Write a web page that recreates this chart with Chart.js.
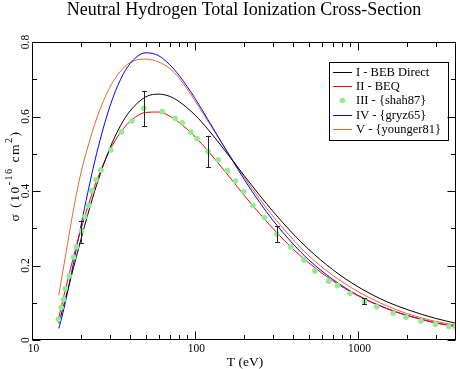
<!DOCTYPE html>
<html><head><meta charset="utf-8">
<script src="https://cdn.jsdelivr.net/npm/chart.js@4"></script>
<style>html,body{margin:0;padding:0;background:#fff;} canvas{display:block;}</style>
</head><body>
<canvas id="c" width="460" height="369"></canvas>
<script>
// ---- data ----
const energies   = [14.6,15,16,17,18,20,22,25,30,35,40,50,60,70,80,100,120,150,200,250,300,400,500,700,1000,1500,2000,3000,4000];
const bebDirect  = [0.045,0.063,0.109,0.153,0.195,0.271,0.337,0.418,0.514,0.576,0.615,0.653,0.660,0.654,0.640,0.604,0.566,0.513,0.442,0.388,0.346,0.285,0.243,0.189,0.143,0.103,0.082,0.058,0.045];
const beq        = [0.059,0.082,0.134,0.181,0.224,0.298,0.358,0.429,0.509,0.558,0.587,0.611,0.612,0.601,0.584,0.546,0.508,0.457,0.389,0.339,0.300,0.244,0.207,0.159,0.119,0.084,0.066,0.046,0.036];
const gryz65     = [0.031,0.049,0.100,0.154,0.208,0.308,0.396,0.503,0.626,0.700,0.742,0.771,0.763,0.739,0.710,0.649,0.592,0.521,0.432,0.369,0.322,0.258,0.215,0.163,0.120,0.085,0.066,0.046,0.036];
const younger81  = [0.120,0.150,0.222,0.290,0.352,0.450,0.518,0.596,0.678,0.722,0.745,0.754,0.746,0.729,0.703,0.642,0.588,0.521,0.438,0.378,0.333,0.270,0.226,0.174,0.130,0.092,0.071,0.050,0.040];
const shahT      = [14.5,15.1,15.6,16.0,16.9,18.0,18.7,20.1,21.1,22.2,23.2,24.7,26.5,30.5,35.4,41,48.5,63,75.5,83.6,94.5,103,120.5,139,158,177,199,227,267,318,388,466,544,662,749,895,1096,1303,1648,1972,2435,2990,3612,3980];
const shahSigma  = [0.056,0.087,0.109,0.138,0.172,0.222,0.250,0.293,0.331,0.361,0.401,0.430,0.456,0.510,0.559,0.588,0.622,0.613,0.595,0.583,0.558,0.541,0.506,0.483,0.455,0.427,0.398,0.361,0.329,0.284,0.250,0.215,0.185,0.158,0.146,0.125,0.103,0.089,0.072,0.061,0.051,0.042,0.036,0.034];
const errT       = [20.1,48.5,120.5,318,1096];
const errLow     = [0.261,0.574,0.464,0.263,0.097];
const errHigh    = [0.320,0.669,0.548,0.306,0.112];
const xMajorTicks = [10,100,1000];
const xMinorTicks = [20,30,40,50,60,70,80,90,200,300,400,500,600,700,800,900,2000,3000];
const yMajorTicks = [0,0.2,0.4,0.6,0.8];
const yMinorTicks = [0.1,0.3,0.5,0.7];
const yTickLabels = ['0','0.2','0.4','0.6','0.8'];
const titleText = 'Neutral Hydrogen Total Ionization Cross-Section';
const legendLabels = ['I - BEB Direct','II - BEQ','III - {shah87}','IV - {gryz65}','V - {younger81}'];

const ORANGE = 'rgb(228,104,48)';
const GREEN = 'rgb(144,238,144)';
const SERIF = '"Liberation Serif","Times New Roman",serif';

function pts(xs, ys){ return xs.map((x,i)=>({x:x, y:ys[i]})); }

const lineDs = (label, data, color) => ({
  label, data: pts(energies, data), borderColor: color, backgroundColor: color,
  borderWidth: 1, pointRadius: 0, fill: false, cubicInterpolationMode: 'monotone', order: 2
});

const decor = {
  id: 'decor',
  afterDatasetsDraw(chart){
    const ctx = chart.ctx, xs = chart.scales.x, ys = chart.scales.y;
    ctx.save();
    ctx.strokeStyle = '#222'; ctx.lineWidth = 1;
    errT.forEach((t,i)=>{
      const px = Math.round(xs.getPixelForValue(t)) + 0.5;
      const y1 = ys.getPixelForValue(errLow[i]), y2 = ys.getPixelForValue(errHigh[i]);
      ctx.beginPath();
      ctx.moveTo(px, y1); ctx.lineTo(px, y2);
      ctx.moveTo(px-2.5, Math.round(y1)+0.5); ctx.lineTo(px+2.5, Math.round(y1)+0.5);
      ctx.moveTo(px-2.5, Math.round(y2)+0.5); ctx.lineTo(px+2.5, Math.round(y2)+0.5);
      ctx.stroke();
    });
    ctx.restore();
  },
  afterDraw(chart){
    const ctx = chart.ctx, xs = chart.scales.x, ys = chart.scales.y, a = chart.chartArea;
    ctx.save();
    ctx.strokeStyle = '#000'; ctx.lineWidth = 1;
    const L = Math.round(a.left)+0.5, R = Math.round(a.right)-0.5, T = Math.round(a.top)+0.5, B = Math.round(a.bottom)-0.5;
    ctx.strokeRect(L, T, R-L, B-T);
    ctx.beginPath();
    const xt = (v, len) => { const p = Math.round(xs.getPixelForValue(v))+0.5; ctx.moveTo(p,B); ctx.lineTo(p,B-len); ctx.moveTo(p,T); ctx.lineTo(p,T+len); };
    const yt = (v, len) => { const p = Math.round(ys.getPixelForValue(v))+0.5; ctx.moveTo(L,p); ctx.lineTo(L+len,p); ctx.moveTo(R,p); ctx.lineTo(R-len,p); };
    xMajorTicks.forEach(v=>xt(v,8)); xMinorTicks.forEach(v=>xt(v,4.5));
    yMajorTicks.forEach(v=>yt(v,8)); yMinorTicks.forEach(v=>yt(v,4.5));
    ctx.stroke();

    ctx.fillStyle = '#000';
    ctx.font = '11.5px ' + SERIF; ctx.textAlign = 'center'; ctx.textBaseline = 'alphabetic';
    xMajorTicks.forEach(v=>{ ctx.fillText(String(v), xs.getPixelForValue(v)+1.5, a.bottom+12); });
    ctx.font = '13.5px ' + SERIF;
    ctx.fillText('T (eV)', (a.left+a.right)/2 + 1, a.bottom+26);
    ctx.font = '11.5px ' + SERIF;
    yMajorTicks.forEach((v,i)=>{
      ctx.save();
      ctx.translate(29, ys.getPixelForValue(v));
      ctx.rotate(-Math.PI/2);
      ctx.textAlign = 'center'; ctx.textBaseline = 'alphabetic';
      ctx.fillText(yTickLabels[i], 0, 0);
      ctx.restore();
    });
    // y title with superscripts
    ctx.save();
    ctx.translate(19, 176);
    ctx.rotate(-Math.PI/2);
    const parts = [['\u03c3 (10',0],['-16',1],[' cm',0],['2',1],[')',0]];
    const fN = '13.5px ' + SERIF, fS = '10px ' + SERIF;
    try { ctx.letterSpacing = '1.5px'; } catch(e) {}
    let w = 0;
    parts.forEach(p=>{ ctx.font = p[1]?fS:fN; w += ctx.measureText(p[0]).width; });
    let x = -w/2;
    ctx.textAlign = 'left';
    parts.forEach(p=>{ ctx.font = p[1]?fS:fN; ctx.fillText(p[0], x, p[1]?-7:0); x += ctx.measureText(p[0]).width; });
    ctx.restore();
    // title
    ctx.font = '18px ' + SERIF; ctx.textAlign = 'center';
    ctx.fillText(titleText, (a.left+a.right)/2, 15);
    // legend
    ctx.lineWidth = 1; ctx.strokeStyle = '#000';
    ctx.strokeRect(329.5, 62.5, 119, 78);
    const colors = ['#000000','#ff0000',null,'#0000ff',ORANGE];
    const rowsY = [72,86,100,115,129];
    ctx.font = '12.5px ' + SERIF; ctx.textAlign = 'left';
    legendLabels.forEach((lab,i)=>{
      const y = rowsY[i];
      if (colors[i]) {
        ctx.strokeStyle = colors[i]; ctx.beginPath(); ctx.moveTo(333, y+0.5); ctx.lineTo(352, y+0.5); ctx.stroke();
      } else {
        ctx.fillStyle = GREEN; ctx.beginPath(); ctx.arc(342.5, y+0.5, 2.8, 0, Math.PI*2); ctx.fill();
      }
      ctx.fillStyle = '#000';
      ctx.fillText(lab, 356, y+4);
    });
    ctx.restore();
  }
};

new Chart(document.getElementById('c'), {
  type: 'line',
  data: {
    datasets: [
      lineDs('I - BEB Direct', bebDirect, '#000000'),
      lineDs('II - BEQ', beq, '#ff0000'),
      { label: 'III - {shah87}', data: pts(shahT, shahSigma), showLine: false, pointRadius: 2.8,
        pointBackgroundColor: GREEN, pointBorderColor: GREEN, pointBorderWidth: 0, backgroundColor: GREEN, borderColor: GREEN, order: 1 },
      lineDs('IV - {gryz65}', gryz65, '#0000ff'),
      lineDs('V - {younger81}', younger81, ORANGE)
    ]
  },
  options: {
    responsive: false, animation: false, devicePixelRatio: 1,
    layout: { padding: { top: 42, right: 3, left: 0, bottom: 0 } },
    plugins: { legend: { display: false }, title: { display: false }, tooltip: { enabled: false } },
    scales: {
      x: { type: 'logarithmic', min: 10, max: 4000, ticks: { display: false }, grid: { display: false }, border: { display: false },
           afterFit(s){ s.height = 29; } },
      y: { type: 'linear', min: 0, max: 0.8, ticks: { display: false }, grid: { display: false }, border: { display: false },
           afterFit(s){ s.width = 32; } }
    }
  },
  plugins: [decor]
});
</script>
</body></html>
